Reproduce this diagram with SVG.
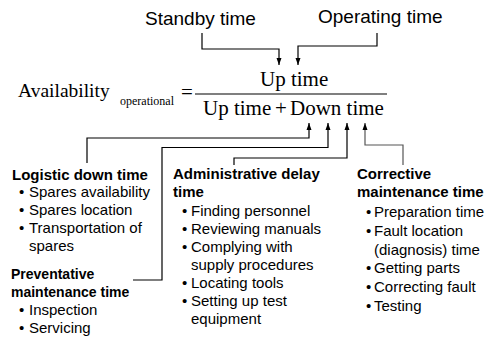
<svg xmlns="http://www.w3.org/2000/svg" width="486" height="340" viewBox="0 0 486 340">
  <style>
    .sans { font-family: "Liberation Sans", Arial, sans-serif; fill: #000; }
    .serif { font-family: "Liberation Serif", "Times New Roman", serif; fill: #000; }
    .label { font-size: 19px; }
    .head { font-weight: bold; font-size: 15px; }
    .item { font-size: 15px; }
    .eq { font-size: 21px; }
    .wire { fill: none; stroke: #000; stroke-width: 1.2; }
    .wire.grey { stroke: #555; }
  </style>
  <defs>
    <marker id="tip" markerUnits="userSpaceOnUse" markerWidth="7" markerHeight="6" refX="7" refY="3" orient="auto">
      <path d="M0,0.5 L7,3 L0,5.5 z" fill="#000"/>
    </marker>
  </defs>

  <rect width="486" height="340" fill="#fff"/>

  <!-- formula -->
  <g id="formula">
    <text class="serif" x="18" y="97" font-size="19.5">Availability</text>
    <text class="serif" x="120" y="105" font-size="12">operational</text>
    <text class="serif eq" x="181" y="99">=</text>
    <text class="serif eq" x="260" y="86">Up time</text>
    <line x1="195" y1="94" x2="387" y2="94" stroke="#000" stroke-width="1.2"/>
    <text class="serif eq" x="203" y="115">Up time</text>
    <text class="serif eq" x="275" y="115">+</text>
    <text class="serif eq" x="290" y="115">Down time</text>
  </g>

  <!-- up-time sources -->
  <g id="standby">
    <text class="sans label" x="145" y="25">Standby time</text>
  </g>
  <g id="operating">
    <text class="sans label" x="318" y="23">Operating time</text>
  </g>

  <!-- down-time components -->
  <g id="logistic">
    <text class="sans head" x="12" y="180">Logistic down time</text>
    <g class="sans item">
      <text x="19" y="197">•</text><text x="29" y="197">Spares availability</text>
      <text x="19" y="215">•</text><text x="29" y="215">Spares location</text>
      <text x="19" y="233">•</text><text x="29" y="233">Transportation of</text>
      <text x="29" y="251">spares</text>
    </g>
  </g>

  <g id="preventative">
    <text class="sans head" x="11" y="279" style="font-size:14px">Preventative</text>
    <text class="sans head" x="11" y="297" style="font-size:14px">maintenance time</text>
    <g class="sans item">
      <text x="19" y="315">•</text><text x="29" y="315">Inspection</text>
      <text x="19" y="333">•</text><text x="29" y="333">Servicing</text>
    </g>
  </g>

  <g id="administrative">
    <text class="sans head" x="173" y="179">Administrative delay</text>
    <text class="sans head" x="173" y="197">time</text>
    <g class="sans item">
      <text x="182" y="216">•</text><text x="191" y="216">Finding personnel</text>
      <text x="182" y="234">•</text><text x="191" y="234">Reviewing manuals</text>
      <text x="182" y="252">•</text><text x="191" y="252">Complying with</text>
      <text x="191" y="270">supply procedures</text>
      <text x="182" y="288">•</text><text x="191" y="288">Locating tools</text>
      <text x="182" y="306">•</text><text x="191" y="306">Setting up test</text>
      <text x="191" y="324">equipment</text>
    </g>
  </g>

  <g id="corrective">
    <text class="sans head" x="357" y="179">Corrective</text>
    <text class="sans head" x="357" y="197">maintenance time</text>
    <g class="sans item">
      <text x="366" y="217">•</text><text x="374" y="217">Preparation time</text>
      <text x="366" y="236">•</text><text x="374" y="236">Fault location</text>
      <text x="374" y="255">(diagnosis) time</text>
      <text x="366" y="273">•</text><text x="374" y="273">Getting parts</text>
      <text x="366" y="292">•</text><text x="374" y="292">Correcting fault</text>
      <text x="366" y="311">•</text><text x="374" y="311">Testing</text>
    </g>
  </g>

  <!-- connectors -->
  <g id="connectors">
    <path class="wire" d="M202,33 V49 H279 V65" marker-end="url(#tip)"/>
    <path class="wire" d="M377,33 V46 H298 V65" marker-end="url(#tip)"/>
    <path class="wire" d="M87,163 V138 H309 V123" marker-end="url(#tip)"/>
    <path class="wire" d="M133,280 H162 V147.5 H328 V123" marker-end="url(#tip)"/>
    <path class="wire" d="M234,165 V158 H347 V123" marker-end="url(#tip)"/>
    <path class="wire grey" d="M403,165 V145 H365 V123" marker-end="url(#tip)"/>
  </g>
</svg>
